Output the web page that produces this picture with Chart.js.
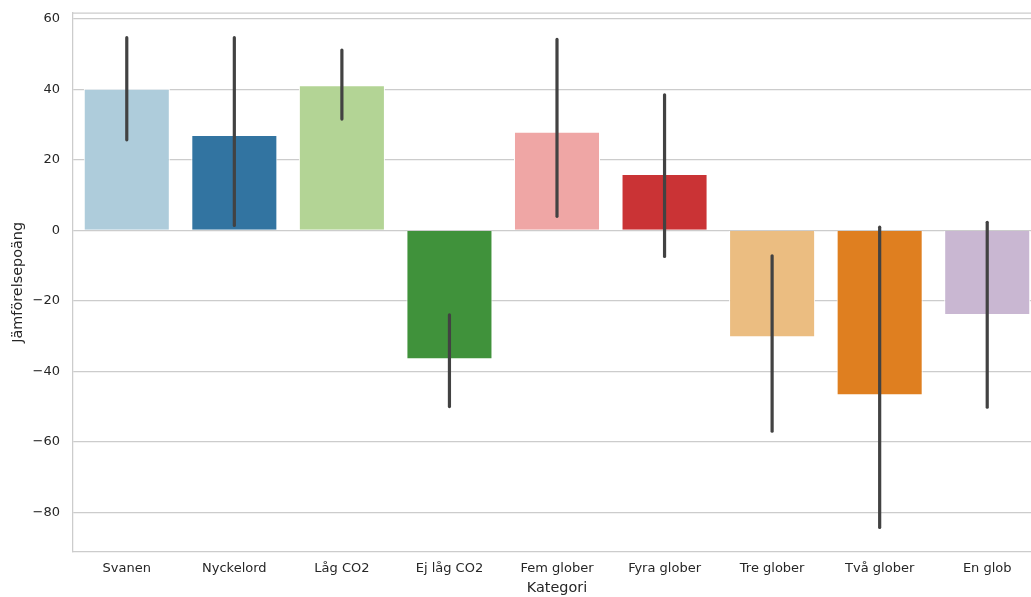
<!DOCTYPE html>
<html>
<head>
<meta charset="utf-8">
<script src="https://cdn.jsdelivr.net/npm/chart.js@4/dist/chart.umd.min.js"></script>
<style>
html,body{margin:0;padding:0;overflow:hidden;background:#fff;}
canvas{display:block;}
</style>
</head>
<body>
<canvas id="c" width="1041" height="597"></canvas>
<script>
const categories = ["Svanen","Nyckelord","Låg CO2","Ej låg CO2","Fem glober","Fyra glober","Tre glober","Två glober","En glob"];
const meanValues = [40.2, 27.1, 41.2, -36.6, 28.0, 16.0, -30.3, -46.8, -24.0];
const errLow  = [25.7, 1.4, 31.6, -50.0, 4.0, -7.4, -57.0, -84.3, -50.2];
const errHigh = [54.7, 54.7, 51.2, -24.0, 54.2, 38.5, -7.2, 0.9, 2.3];
const barColors = ["#aeccdb","#3274a1","#b3d495","#40923b","#efa6a5","#ca3335","#ebbd81","#df7f20","#c9b7d2"];
const yTicks = [-80, -60, -40, -20, 0, 20, 40, 60];
const yTitle = "Jämförelsepoäng";
const xTitle = "Kategori";

const textColor = "#262626";
const gridColor = "#cccccc";
const fontFamily = "'DejaVu Sans', sans-serif";

const errorBarPlugin = {
  id: "errorBars",
  afterDatasetsDraw(chart) {
    const ctx = chart.ctx;
    const x = chart.scales.x, y = chart.scales.y;
    const area = chart.chartArea;
    ctx.save();
    ctx.beginPath();
    ctx.rect(area.left, area.top, area.right - area.left, area.bottom - area.top);
    ctx.clip();
    ctx.strokeStyle = "#424242";
    ctx.lineWidth = 3.2;
    ctx.lineCap = "round";
    categories.forEach((c, i) => {
      const px = x.getPixelForValue(i);
      ctx.beginPath();
      ctx.moveTo(px, y.getPixelForValue(errLow[i]));
      ctx.lineTo(px, y.getPixelForValue(errHigh[i]));
      ctx.stroke();
    });
    ctx.restore();
  }
};

const topSpinePlugin = {
  id: "topSpine",
  afterDraw(chart) {
    const ctx = chart.ctx, a = chart.chartArea;
    ctx.save();
    ctx.strokeStyle = gridColor;
    ctx.lineWidth = 1.25;
    ctx.beginPath();
    ctx.moveTo(a.left, a.top);
    ctx.lineTo(a.right, a.top);
    ctx.stroke();
    ctx.restore();
  }
};

new Chart(document.getElementById("c"), {
  type: "bar",
  data: {
    labels: categories,
    datasets: [{
      data: meanValues,
      backgroundColor: barColors,
      borderColor: "#ffffff",
      borderWidth: 1,
      barPercentage: 0.8,
      categoryPercentage: 1.0
    }]
  },
  options: {
    responsive: false,
    animation: false,
    devicePixelRatio: 1,
    layout: { padding: { top: 13, left: 0, right: 0, bottom: 0 } },
    plugins: { legend: { display: false }, tooltip: { enabled: false } },
    scales: {
      x: {
        grid: { display: false, drawTicks: false },
        border: { display: true, color: gridColor, width: 1.25 },
        ticks: { color: textColor, font: { family: fontFamily, size: 13 }, padding: 9, maxRotation: 0, autoSkip: false },
        title: { display: true, text: xTitle, color: textColor, font: { family: fontFamily, size: 14.4 }, padding: { top: 0, bottom: 0 } },
        afterFit(scale) { scale.height = 45.3; scale.paddingLeft = 0; scale.paddingRight = 0; }
      },
      y: {
        min: -91.2,
        max: 61.7,
        afterBuildTicks(scale) { scale.ticks = yTicks.map(v => ({ value: v })); },
        grid: { color: gridColor, lineWidth: 1.25, drawTicks: false },
        border: { display: true, color: gridColor, width: 1.25 },
        ticks: {
          color: textColor,
          font: { family: fontFamily, size: 13 },
          padding: 13,
          callback: v => (v < 0 ? "\u2212" + Math.abs(v) : String(v))
        },
        title: { display: true, text: yTitle, color: textColor, font: { family: fontFamily, size: 14.4 }, padding: { top: 9.4, bottom: 0 } },
        afterFit(scale) { scale.width = 73; scale.paddingTop = 0; scale.paddingBottom = 0; }
      }
    }
  },
  plugins: [errorBarPlugin, topSpinePlugin]
});
</script>
</body>
</html>
